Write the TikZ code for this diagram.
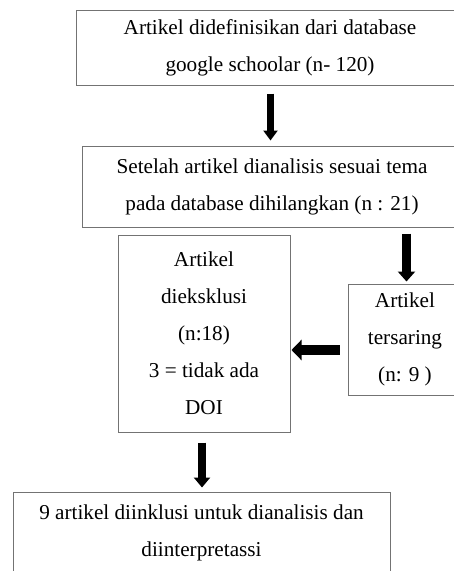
\documentclass[tikz,border=0pt]{standalone}
\usepackage{fontspec}
\setmainfont{Liberation Serif}
\usetikzlibrary{arrows.meta}
\tikzset{
  boxn/.style={draw=black!55, line width=1pt, inner sep=0pt, align=center, text=black,
    font=\fontsize{21.2pt}{37pt}\selectfont},
  bigarrow/.style={draw=black, line width=#1, -{Triangle[width=2*#1, length=10pt]}},
}
\begin{document}
\begin{tikzpicture}[x=1pt,y=-1pt]
\useasboundingbox (0,0) rectangle (454,571);
\clip (0,0) rectangle (454,571);
\node[boxn, minimum width=388pt, minimum height=75pt] (b1) at (270,47.5)
  {Artikel didefinisikan dari database\\google schoolar (n- 120)};
\node[boxn, minimum width=380pt, minimum height=81pt] (b2) at (272,186.5)
  {Setelah artikel dianalisis sesuai tema\\pada database dihilangkan (n : 21)};
\node[boxn, minimum width=172pt, minimum height=197pt] (b3) at (204,333.5)
  {Artikel\\dieksklusi\\(n:18)\\3 = tidak ada\\DOI};
\node[boxn, minimum width=114pt, minimum height=111pt] (b4) at (405,339.5)
  {Artikel\\tersaring\\ (n: 9 )};
\node[boxn, minimum width=377pt, minimum height=82pt] (b5) at (201.5,533)
  {9 artikel diinklusi untuk dianalisis dan\\diinterpretassi};
\draw[bigarrow=7pt, shorten <=8pt, shorten >=5pt] ([xshift=0.5pt]b1.south) -- ([xshift=0.5pt]b1.south |- b2.north);
\draw[bigarrow=8.5pt, shorten <=6pt, shorten >=2pt] ([xshift=1.5pt]b4.north |- b2.south) -- ([xshift=1.5pt]b4.north);
\coordinate (l) at ([yshift=-10.5pt]b4.west);
\draw[bigarrow=10pt, shorten <=8pt, shorten >=1pt] (l) -- (l -| b3.east);
\draw[bigarrow=8pt, shorten <=10pt, shorten >=4pt] ([xshift=-2pt]b3.south) -- ([xshift=-2pt]b3.south |- b5.north);
\end{tikzpicture}
\end{document}
